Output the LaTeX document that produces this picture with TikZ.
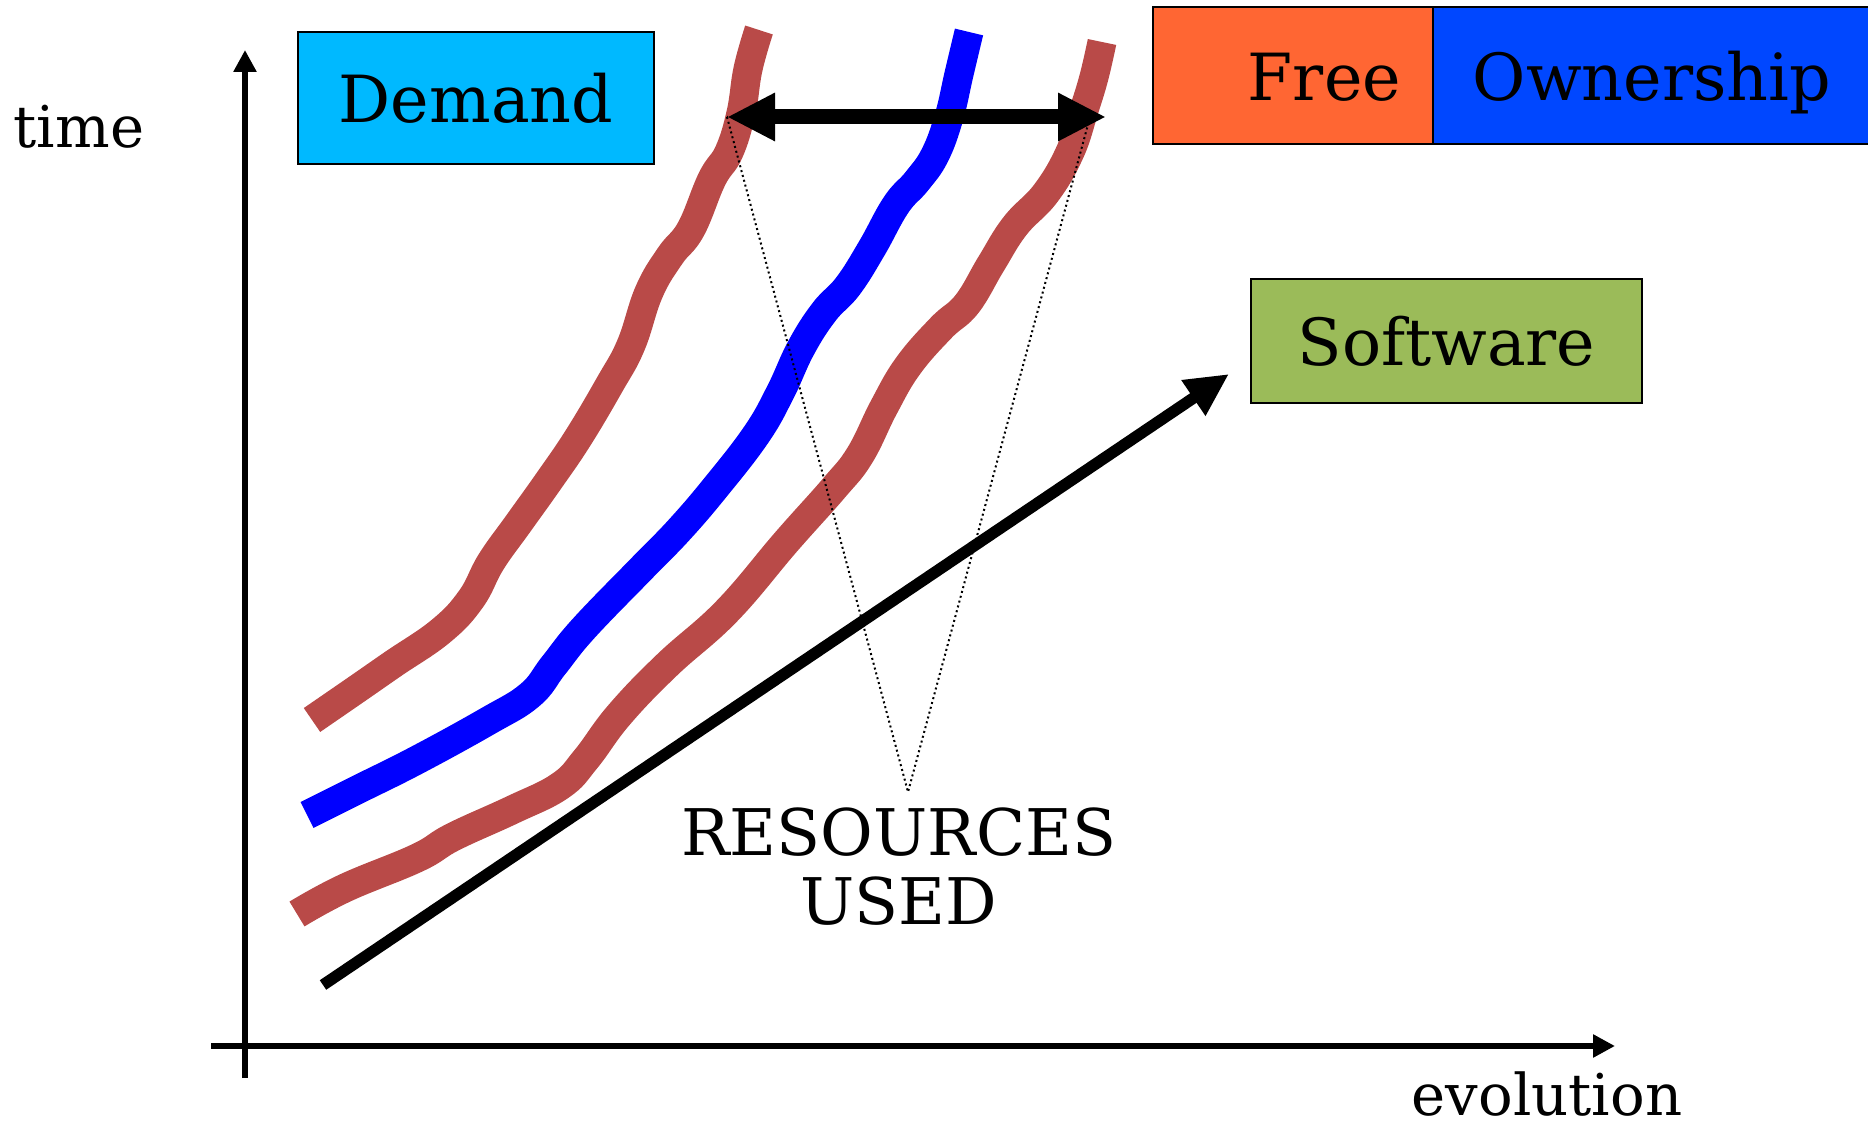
\documentclass[tikz,border=0pt]{standalone}
\usepackage{fontspec}
\setmainfont{DejaVu Serif}
\usetikzlibrary{arrows.meta}

\definecolor{demandblue}{HTML}{00B9FF}
\definecolor{freeorange}{HTML}{FF6633}
\definecolor{ownerblue}{HTML}{0047FF}
\definecolor{softgreen}{HTML}{9BBB59}
\definecolor{pathred}{HTML}{B94A48}
\definecolor{pathblue}{HTML}{0000FF}

\tikzset{
	tagbox/.style={draw=black, line width=0.02cm, inner sep=0pt, font=\fontsize{18.5}{22}\selectfont},
	axisline/.style={line width=0.065cm, -{Triangle[length=0.22cm, width=0.22cm]}},
	axislabel/.style={anchor=base, inner sep=0pt, font=\fontsize{16.4}{19}\selectfont},
	trend/.style={line width=0.29cm, line cap=butt, line join=round},
	spanarrow/.style={line width=0.15cm, {Triangle[length=0.48cm, width=0.45cm]}-{Triangle[length=0.48cm, width=0.45cm]}},
	softarrow/.style={line width=0.115cm, -{Triangle[length=0.43cm, width=0.40cm]}},
	guide/.style={line width=0.02cm, dash pattern=on 0.02cm off 0.03cm}
}

\begin{document}
\begin{tikzpicture}[y=-1cm]
		\clip (0,0) rectangle (18.68,11.24);
		
		% axes
		\coordinate (tbot) at (2.45,10.78);
		\coordinate (ttop) at (2.45,0.50);
		\coordinate (eleft) at (2.11,10.46);
		\coordinate (eright) at (16.15,10.46);
		\draw[axisline] (tbot) -- (ttop);
		\draw[axisline] (eleft) -- (eright);
		\node[axislabel] (time) at (0.79,1.48) {time};
		\node[axislabel] (evolution) at (15.47,11.15) {evolution};
		
		% labels
		\node[tagbox, fill=demandblue, minimum width=3.56cm, minimum height=1.32cm] (demand) at (4.76,0.98) {Demand};
		\node[tagbox, fill=freeorange, minimum width=2.80cm, minimum height=1.37cm, text width=2.16cm, align=right, text height=0.5cm, text depth=0cm] (free) at (12.93,0.755) {Free};
		\node[tagbox, fill=ownerblue, minimum width=4.38cm, minimum height=1.37cm, text height=0.5cm, text depth=0cm] (ownership) at (16.52,0.755) {Ownership};
		\node[tagbox, fill=softgreen, minimum width=3.91cm, minimum height=1.24cm] (software) at (14.465,3.41) {Software};
		
		% the three paths
		\draw[trend, pathred] plot[smooth, tension=0.7] coordinates {(3.12,7.20) (3.57,6.89) (3.93,6.64) (4.41,6.31) (4.71,5.99) (4.91,5.62) (5.18,5.24) (5.48,4.82) (5.78,4.38) (6.10,3.84) (6.31,3.45) (6.49,2.92) (6.70,2.56) (6.91,2.29) (7.12,1.79) (7.29,1.52) (7.41,1.13) (7.48,0.69) (7.59,0.30)};
		\draw[trend, pathblue] plot[smooth, tension=0.7] coordinates {(3.07,8.15) (3.57,7.90) (4.17,7.60) (4.88,7.21) (5.30,6.95) (5.54,6.65) (5.84,6.28) (6.43,5.67) (6.79,5.30) (7.15,4.88) (7.56,4.35) (7.80,3.93) (8.01,3.48) (8.24,3.12) (8.48,2.86) (8.72,2.48) (8.96,2.05) (9.17,1.81) (9.35,1.55) (9.49,1.17) (9.59,0.74) (9.69,0.32)};
		\draw[trend, pathred] plot[smooth, tension=0.7] coordinates {(2.97,9.14) (3.45,8.88) (4.17,8.58) (4.53,8.37) (5.12,8.10) (5.60,7.86) (5.86,7.59) (6.19,7.15) (6.67,6.65) (7.27,6.11) (7.86,5.42) (8.34,4.88) (8.60,4.55) (8.84,4.07) (9.08,3.66) (9.41,3.28) (9.67,3.04) (9.91,2.64) (10.15,2.26) (10.46,1.93) (10.70,1.52) (10.84,1.10) (10.94,0.77) (11.02,0.42)};
		
		% resources used
		\coordinate (spanL) at (7.27,1.17);
		\coordinate (spanR) at (11.06,1.17);
		\coordinate (guideR) at (10.90,1.17);
		\coordinate (apex) at (9.08,7.92);
		\draw[guide] (spanL) -- (apex) -- (guideR) -- cycle;
		\node[tagbox, draw=none, align=center, font=\fontsize{18.3}{19.6}\selectfont] (resources) at (8.99,8.67) {RESOURCES\\USED};
		\draw[spanarrow] (spanL) -- (spanR);
		
		% software arrow
		\coordinate (swstart) at (3.23,9.85);
		\coordinate (swtip) at (12.29,3.74);
		\draw[softarrow] (swstart) -- (swtip);
		
\end{tikzpicture}
\end{document}
